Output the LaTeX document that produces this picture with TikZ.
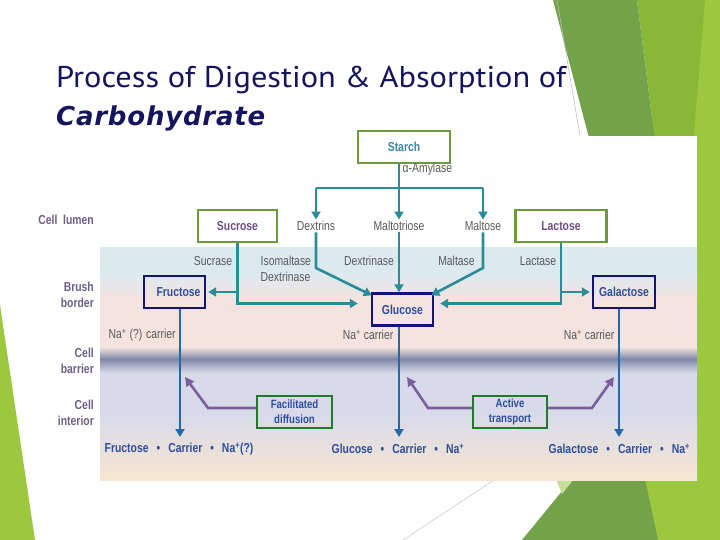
\documentclass[tikz,border=0pt]{standalone}
\usepackage{fontspec}
\setmainfont{Liberation Sans}
\newfontfamily\nar[FakeStretch=0.8]{Liberation Sans}
\newfontfamily\ttl[FakeStretch=1.08]{PT Sans}
\newfontfamily\carb[LetterSpace=3]{DejaVu Sans}
\usetikzlibrary{arrows.meta,calc}
\definecolor{gdark}{HTML}{73A24B}
\definecolor{gmed}{HTML}{89B737}
\definecolor{glight}{HTML}{9BC83F}
\definecolor{gpale}{HTML}{C3DE98}
\definecolor{navyT}{HTML}{15155E}
\definecolor{bgreen}{HTML}{6A9A3C}
\definecolor{dgreen}{HTML}{1F7A2A}
\definecolor{nboxc}{HTML}{13137A}
\definecolor{tealA}{HTML}{2A8C98}
\definecolor{blueA}{HTML}{2468AC}
\definecolor{purA}{HTML}{7B5F9C}
\definecolor{greyT}{HTML}{5A5A5A}
\definecolor{purT}{HTML}{6C4E82}
\definecolor{blueT}{HTML}{2E4E9C}
\definecolor{starchT}{HTML}{3A86A6}
\definecolor{sideT}{HTML}{6B5F88}
\definecolor{bandBlue}{HTML}{DCEAF0}
\definecolor{bandPink}{HTML}{F4E3DF}
\definecolor{memb}{HTML}{8088A6}
\definecolor{bandLav}{HTML}{D8DAEA}
\definecolor{bandPeach}{HTML}{F7E6D1}
\tikzset{
  lbl/.style={font=\nar\fontsize{13}{14}\selectfont, text=greyT, inner sep=1.5pt},
  btxt/.style={font=\nar\bfseries\fontsize{13}{14}\selectfont, inner sep=1.5pt},
  side/.style={font=\nar\bfseries\fontsize{13}{15.5}\selectfont, text=sideT, align=right, anchor=east, inner sep=0pt},
  gbox/.style={btxt, draw=bgreen, line width=2.4pt, minimum height=32pt},
  nbox/.style={btxt, draw=nboxc, line width=2.4pt, minimum height=32pt, text=blueT},
  dbox/.style={font=\nar\bfseries\fontsize{12}{15}\selectfont, draw=dgreen, line width=2.4pt, minimum height=32pt, minimum width=75pt, text=blueT, align=center, inner sep=0pt},
  tline/.style={draw=tealA, line width=2.6pt},
  tarr/.style={tline, -{Triangle[length=8pt,width=9pt]}},
  barr/.style={draw=blueA, line width=2.6pt, -{Triangle[length=8pt,width=9pt]}},
  parr/.style={draw=purA, line width=2.6pt, -{Triangle[length=9pt,width=9pt]}},
}
\begin{document}
\begin{tikzpicture}[x=1pt,y=-1pt]
\useasboundingbox (0,0) rectangle (720,540);
% slide decorations
\fill[glight] (655,0) -- (720,0) -- (720,540) -- (640,540) -- cycle;
\fill[gmed] (637,0) -- (705,0) -- (690,180) -- (660,180) -- cycle;
\fill[gdark] (553,0) -- (637,0) -- (660,180) -- (600,180) -- cycle;
\fill[gdark] (522,540) -- (572,479) -- (645,479) -- (658,540) -- cycle;
\fill[gpale] (556,479) -- (574,479) -- (562,494) -- cycle;
\draw[black!25, line width=0.6pt] (557,0) -- (580,136);
\draw[black!20, line width=0.6pt] (403,540) -- (494,480);
\fill[glight] (0,305) -- (35,540) -- (0,540) -- cycle;
% title
\node[font=\ttl\fontsize{30}{32}\selectfont, text=navyT, anchor=base west, inner sep=0pt] (title) at (56,88) {Process of Digestion \& Absorption of};
\node[font=\carb\bfseries\itshape\fontsize{26}{28}\selectfont, text=navyT, anchor=base west, inner sep=0pt] (carb) at (56,126) {Carbohydrate};
% diagram background
\fill[white] (100,136) rectangle (697,480);
\fill[bandBlue] (100,247) rectangle (697,272);
\shade[top color=bandBlue,bottom color=bandPink] (100,272) rectangle (697,300);
\fill[bandPink] (100,300) rectangle (697,347);
\shade[top color=bandPink,bottom color=memb] (100,347) rectangle (697,359);
\shade[top color=memb,bottom color=bandLav] (100,359) rectangle (697,373);
\fill[bandLav] (100,373) rectangle (697,415);
\shade[top color=bandLav,bottom color=bandPeach] (100,415) rectangle (697,480);
% side labels
\node[side] (lumen) at (94,220) {Cell\ \ lumen};
\node[side] (brush) at (94,295) {Brush\\border};
\node[side] (barrier) at (94,361) {Cell\\barrier};
\node[side] (interior) at (94,413) {Cell\\interior};
% nodes
\node[gbox, minimum width=92pt, text=starchT] (starch) at (404,147) {Starch};
\node[lbl, anchor=west] (amyl) at (401,169) {α-Amylase};
\node[gbox, minimum width=79pt, text=purT] (suc) at (237.5,226) {Sucrose};
\node[lbl] (dx) at (316,226) {Dextrins};
\node[lbl] (mt) at (399,226) {Maltotriose};
\node[lbl] (ml) at (483,226) {Maltose};
\node[gbox, minimum width=91pt, text=purT] (lac) at (561,226) {Lactose};
\node[lbl] (sucrase) at (213,261) {Sucrase};
\node[lbl, anchor=west, align=left, font=\nar\fontsize{13}{16}\selectfont] (iso) at (259,269) {Isomaltase\\Dextrinase};
\node[lbl] (dextrinase) at (369,261) {Dextrinase};
\node[lbl] (maltase) at (456.5,261) {Maltase};
\node[lbl] (lactase) at (538,261) {Lactase};
\node[nbox, minimum width=61pt] (fru) at (174.5,292) {\hspace{8pt}Fructose};
\node[nbox, minimum width=61pt] (glu) at (402.5,309.5) {Glucose};
\node[nbox, minimum width=62pt] (gal) at (624,292) {Galactose};
\node[lbl, anchor=west] (na1) at (107,335) {Na\textsuperscript{+} (?) carrier};
\node[lbl, anchor=east] (na2) at (395,335) {Na\textsuperscript{+} carrier};
\node[lbl, anchor=east] (na3) at (616,335) {Na\textsuperscript{+} carrier};
\node[dbox] (fac) at (294.5,412) {Facilitated\\diffusion};
\node[dbox, minimum width=74pt] (act) at (510,412) {Active\\transport};
\node[btxt, text=blueT, anchor=west] (fb) at (103,449) {Fructose\hspace{8pt}•\hspace{8pt}Carrier\hspace{8pt}•\hspace{8pt}Na\textsuperscript{+}(?)};
\node[btxt, text=blueT, anchor=west] (gb) at (330,449) {Glucose\hspace{8pt}•\hspace{8pt}Carrier\hspace{8pt}•\hspace{8pt}Na\textsuperscript{+}};
\node[btxt, text=blueT, anchor=west] (lb) at (547,449) {Galactose\hspace{8pt}•\hspace{8pt}Carrier\hspace{8pt}•\hspace{8pt}Na\textsuperscript{+}};
% helper coordinates
\coordinate (bar) at (399,188);
\coordinate (knee) at (0,268);
\coordinate (gl) at ($(glu.west)+(-13,-6)$);
\coordinate (gr) at ($(glu.east)+(6,-6)$);
\coordinate (fd) at (180,437);
\coordinate (gd) at (399,437);
\coordinate (ld) at (619,437);
\coordinate (pa1) at (208,408);
\coordinate (pt1) at (185,377);
\coordinate (pa2) at (428,408);
\coordinate (pt2) at (407,377);
\coordinate (pa3) at (592,408);
\coordinate (pt3) at (614,377);
% teal connectors
\draw[tarr] (starch.south -| mt.north) -- (mt.north);
\draw[tline] (dx.north |- bar) -- (ml.north |- bar);
\draw[tarr] (dx.north |- bar) -- (dx.north);
\draw[tarr] (ml.north |- bar) -- (ml.north);
\draw[tarr] (suc.south) |- (gl);
\draw[tarr, shorten >=2pt] (suc.south |- fru.east) -- (fru.east);
\draw[tarr] (lac.south) |- (gr);
\draw[tarr, shorten >=2pt] (lac.south |- gal.west) -- (gal.west);
\draw[tarr] (dx.south) -- (dx.south |- knee) -- ($(glu.north west)+(1,3)$);
\draw[tarr] (ml.south) -- (ml.south |- knee) -- ($(glu.north east)+(-3,3)$);
\draw[tarr] (mt.south) -- (mt.south |- glu.north);
% blue down connectors
\draw[barr] (fru.south -| fd) -- (fd);
\draw[barr] (glu.south -| gd) -- (gd);
\draw[barr] (gal.south -| ld) -- (ld);
% purple connectors
\draw[parr] (fac.west |- pa1) -- (pa1) -- (pt1);
\draw[parr] (act.west |- pa2) -- (pa2) -- (pt2);
\draw[parr] (act.east |- pa3) -- (pa3) -- (pt3);
\end{tikzpicture}
\end{document}
